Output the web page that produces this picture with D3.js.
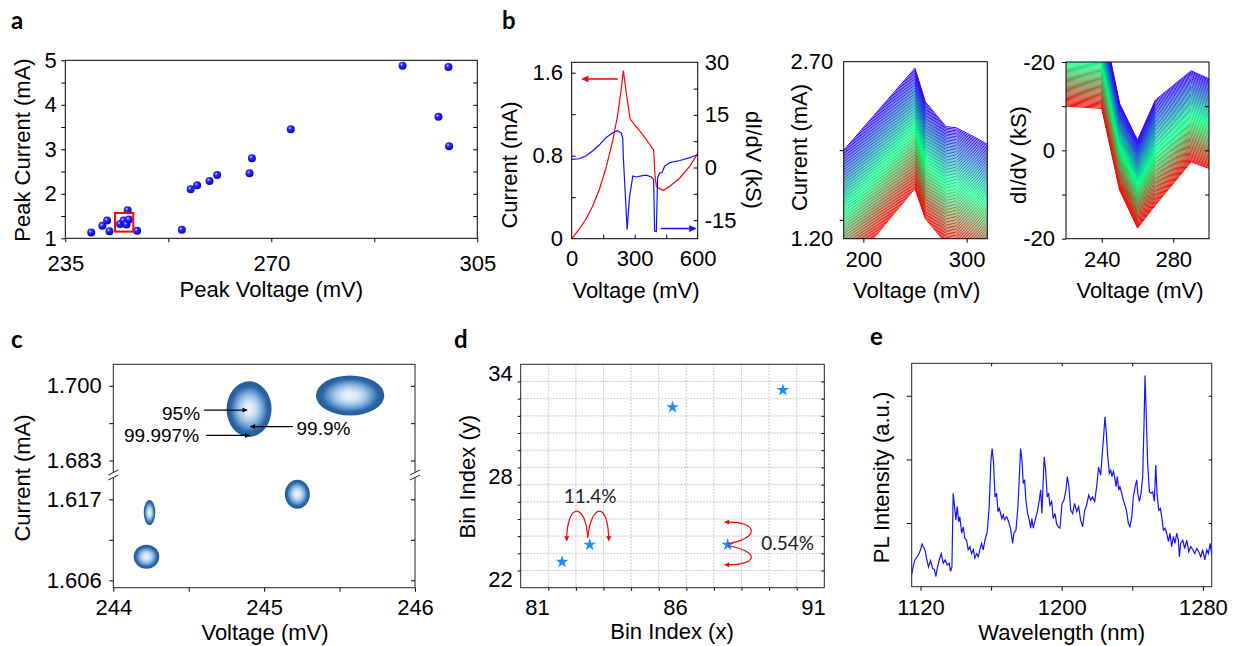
<!DOCTYPE html>
<html>
<head>
<meta charset="utf-8">
<script src="https://cdn.jsdelivr.net/npm/d3@7"></script>
<style>
  body { margin: 0; background: #fff; }
  svg { display: block; }
</style>
</head>
<body>
<svg id="fig" width="1239" height="646"></svg>
<script>
// ---------- data ----------
// a: peak voltage / peak current of each device
const peakV = [239.4, 241.3, 242.1, 242.5, 244.3, 244.9, 245.4, 245.8, 245.6, 247.2, 254.8,
               256.3, 257.4, 259.5, 260.8, 266.3, 266.7, 273.3, 292.3, 298.4, 300.1, 300.2];
const peakI = [1.13, 1.28, 1.40, 1.16, 1.32, 1.40, 1.31, 1.42, 1.63, 1.17, 1.19,
               2.10, 2.19, 2.29, 2.42, 2.46, 2.80, 3.45, 4.88, 3.73, 4.85, 3.07];
const selBox = [243.45, 246.55, 1.15, 1.57];   // x0, x1, y0, y1 of the red square
const aTicksX = [235, 270, 305];
const aTicksY = [1, 2, 3, 4, 5];

// b (left): I-V and dI/dV of one device
const ivV = [0, 35, 67, 99, 131, 163, 195, 219, 235, 246, 259, 278, 307, 339, 371, 390, 397, 403, 419, 438, 467, 515, 563, 600];
const ivI = [0, 0.09, 0.185, 0.31, 0.47, 0.68, 0.94, 1.19, 1.43, 1.62, 1.42, 1.155, 1.08, 1.00, 0.91, 0.857, 0.60, 0.506, 0.48, 0.467, 0.506, 0.585, 0.70, 0.82];
const gV = [0, 35, 67, 99, 131, 163, 195, 219, 235, 243, 246, 256, 264, 275, 291, 307, 331, 355, 379, 390, 395, 403, 409, 419, 430, 443, 467, 515, 563, 600];
const gG = [2.3, 2.5, 3.3, 4.7, 6.4, 8.5, 9.9, 10.5, 9.9, 8.5, 2.8, -8.6, -17.7, -8.6, -2.4, -2.7, -2.4, -2.2, -2.7, -3.4, -18.1, -18.3, -2.9, -1.5, -1.5, 0.4, 1.4, 2.0, 2.8, 3.7];

// b (middle): family of I-V curves, first (red) and last (blue) curve
const famV    = [181, 250, 260, 280, 290, 310, 320];
const famLow  = [0.90, 1.625, 1.37, 1.16, 1.15, 1.06, 1.01];
const famHigh = [1.95, 2.645, 2.36, 2.15, 2.14, 2.05, 2.00];
// b (right): family of dI/dV curves
const dfV    = [220, 240, 250, 260, 270, 290, 300];
const dfLow  = [10, 9.5, -9, -17.6, -12.4, -2.6, -4.1];
const dfHigh = [30, 30, 10.6, 2.3, 11.4, 18, 16.2];
const nCurves = 80;
const famColors = ['#ff0000', '#00ff80', '#3300ff'];

// c: confidence ellipses (centre and half axes)
const ellV  = [244.9, 245.57, 245.22, 244.24, 244.22];
const ellI  = [1.6947, 1.6978, 1.6177, 1.6152, 1.6092];
const ellRV = [0.149, 0.2265, 0.0828, 0.0384, 0.0848];
const ellRI = [0.00633, 0.00455, 0.00197, 0.0017, 0.00163];
const cTicksY = [1.700, 1.683, 1.617, 1.606];

// d: bin indices
const binX = [81.5, 82.5, 85.5, 87.5, 89.5];
const binY = [23.5, 24.5, 32.5, 24.5, 33.5];

// e: PL spectrum
const plWl = [1114.9,1115.8,1116.8,1118.1,1119.2,1120.0,1120.8,1121.5,1122.5,1123.4,1124.5,1125.7,1126.8,1127.9,1128.7,1129.5,1130.6,1131.7,1132.9,1134.0,
  1135.1,1136.3,1137.0,1137.8,1138.5,1139.3,1140.0,1140.8,1141.6,1142.3,1143.3,1144.2,1145.1,1146.1,1147.0,1148.0,1148.9,1149.9,1150.8,1151.8,
  1152.7,1153.6,1154.6,1155.5,1156.5,1157.8,1158.9,1159.9,1160.6,1161.4,1162.2,1163.1,1163.9,1164.6,1165.4,1166.1,1166.9,1167.6,1168.8,1169.9,
  1171.0,1172.2,1172.9,1174.1,1175.2,1176.0,1176.7,1177.5,1178.2,1179.0,1179.7,1180.7,1181.6,1182.4,1183.1,1183.9,1185.0,1186.2,1187.3,1188.1,
  1188.8,1189.6,1190.1,1190.9,1191.8,1192.6,1193.3,1194.3,1195.2,1196.2,1197.1,1198.1,1199.0,1200.2,1201.3,1202.4,1203.2,1204.1,1205.1,1206.2,
  1207.3,1208.5,1209.6,1210.7,1211.9,1213.0,1214.1,1215.3,1216.4,1217.5,1218.7,1219.8,1220.9,1222.1,1223.0,1223.8,1224.5,1225.3,1226.0,1227.0,
  1227.8,1228.5,1229.3,1230.0,1230.8,1231.5,1232.3,1233.0,1234.0,1234.9,1236.1,1236.8,1237.8,1238.7,1239.7,1240.6,1241.6,1242.5,1243.1,1244.0,
  1245.0,1245.9,1246.7,1247.2,1248.0,1248.7,1249.7,1250.6,1251.6,1252.5,1253.3,1254.0,1255.0,1255.9,1256.7,1257.6,1258.6,1259.5,1260.5,1261.4,
  1262.3,1263.3,1264.2,1265.2,1266.1,1266.7,1267.4,1268.6,1269.7,1270.9,1272.0,1273.1,1274.3,1275.4,1276.5,1277.7,1278.8,1279.9,1281.1,1282.2,
  1283.1,1284.1,1285.0];
const plInt = [0.18,0.31,0.42,0.47,0.52,0.58,0.67,0.63,0.58,0.45,0.31,0.41,0.29,0.27,0.16,0.29,0.42,0.52,0.37,0.42,
  0.34,0.37,0.24,0.31,1.47,1.26,1.05,1.26,1.02,1.10,0.84,0.94,0.76,0.73,0.58,0.63,0.52,0.58,0.45,0.52,
  0.47,0.58,0.68,0.58,0.73,0.86,1.26,1.99,2.17,1.94,1.41,1.47,1.18,1.23,1.15,1.07,1.13,1.05,1.10,1.02,
  0.92,0.68,0.84,0.89,1.26,1.73,2.17,1.99,1.62,1.68,1.36,1.15,1.05,0.92,1.07,0.92,1.05,1.18,1.36,1.52,
  1.15,1.73,2.04,1.83,1.41,1.47,1.28,1.34,1.07,1.15,0.99,0.94,0.92,1.31,1.36,1.52,1.73,1.57,1.20,1.15,
  1.31,1.18,1.26,1.05,0.94,1.20,1.28,1.44,1.36,1.41,1.34,1.57,1.88,1.75,2.09,2.38,2.67,2.41,2.09,1.78,
  1.83,1.73,1.81,1.73,1.57,1.73,1.52,1.57,1.47,1.36,1.26,1.18,0.99,0.94,1.10,1.41,1.57,1.68,1.47,1.34,
  1.47,1.73,2.62,3.32,2.62,1.94,1.49,1.47,1.49,1.34,1.91,1.47,1.20,1.23,1.10,0.89,0.92,0.84,0.71,0.84,
  0.63,0.79,0.68,0.84,0.73,0.47,0.68,0.73,0.60,0.73,0.55,0.63,0.58,0.52,0.60,0.55,0.47,0.58,0.42,0.58,
  0.52,0.68,0.50];

// ---------- helpers ----------
const svg = d3.select('#fig');
const defs = svg.append('defs');
const FONT = "'Liberation Sans', Arial, Helvetica, sans-serif";
const FS = 22;

function panel(x0, y0, x1, y1) {
  const g = svg.append('g').attr('transform', `translate(${x0},${y0})`);
  return { g: g, w: x1 - x0, h: y1 - y0, x0: x0, y0: y0 };
}
function frame(P, col) {
  P.g.append('rect').attr('width', P.w).attr('height', P.h)
    .attr('fill', 'none').attr('stroke', col || '#000').attr('stroke-width', 1);
}
function clipped(P, id) {
  defs.append('clipPath').attr('id', id).append('rect').attr('width', P.w).attr('height', P.h);
  return P.g.append('g').attr('clip-path', `url(#${id})`);
}
// ticks only (labels:false) or labels only (size 0)
function addAxis(g, orient, scale, values, o) {
  o = Object.assign({ size: 4, pad: 4, fmt: null, tx: 0, ty: 0, fs: FS, labels: false }, o);
  const gen = orient(scale).tickValues(values).tickSizeInner(o.size).tickSizeOuter(0).tickPadding(o.pad);
  gen.tickFormat(o.labels ? (o.fmt || (d => d)) : '');
  const s = g.append('g').attr('transform', `translate(${o.tx},${o.ty})`).call(gen)
    .attr('font-size', o.fs).attr('font-family', FONT);
  s.select('.domain').remove();
  s.selectAll('line').attr('stroke', '#000');
  s.selectAll('text').attr('fill', '#000');
  return s;
}
function title(s, x, y, rot, size) {
  svg.append('text')
    .attr('transform', `translate(${x},${y}) rotate(${rot || 0})`)
    .attr('text-anchor', 'middle').attr('font-family', FONT)
    .attr('font-size', size || FS).attr('fill', '#000').text(s);
}
function letter(s, x, y) {
  svg.append('text').attr('x', x).attr('y', y).attr('font-family', "Lato, 'Open Sans', sans-serif")
    .attr('font-weight', 'bold').attr('font-size', 24).attr('fill', '#000').text(s);
}
function marker(id, col, w, h) {
  defs.append('marker').attr('id', id).attr('viewBox', '0 0 10 10')
    .attr('refX', 9).attr('refY', 5).attr('markerWidth', w).attr('markerHeight', h)
    .attr('markerUnits', 'userSpaceOnUse').attr('orient', 'auto')
    .append('path').attr('d', 'M0,0L10,5L0,10z').attr('fill', col);
}
marker('arRed', '#ff0000', 8, 7);
marker('arBlue', '#1010ff', 8, 7);
marker('arBlack', '#000', 7, 5);
marker('arRed2', '#ff0000', 6, 5);

// ---------- a ----------
const dg = defs.append('radialGradient').attr('id', 'dotGrad').attr('cx', '38%').attr('cy', '35%').attr('r', '65%');
dg.append('stop').attr('offset', '0%').attr('stop-color', '#d8d8ff');
dg.append('stop').attr('offset', '30%').attr('stop-color', '#3030ff');
dg.append('stop').attr('offset', '100%').attr('stop-color', '#0000c8');

const A = panel(65.3, 60.3, 477.3, 238.3);
const ax = d3.scaleLinear().domain([235, 305]).range([0, A.w]);
const ay = d3.scaleLinear().domain([1, 5]).range([A.h, 0]);
addAxis(A.g, d3.axisBottom, ax, [235, 252.5, 270, 287.5, 305], { size: 4, ty: A.h });
addAxis(A.g, d3.axisBottom, ax, aTicksX, { size: 0, pad: 17, ty: A.h, labels: true });
addAxis(A.g, d3.axisLeft, ay, [1, 1.5, 2, 2.5, 3, 3.5, 4, 4.5, 5], { size: 4 });
addAxis(A.g, d3.axisLeft, ay, aTicksY, { size: 0, pad: 8.6, labels: true });
addAxis(A.g, d3.axisLeft, ay, [1.5, 2, 2.5, 3, 3.5, 4, 4.5], { size: 4, tx: A.w });
A.g.selectAll('circle.pt').data(d3.zip(peakV, peakI)).join('circle').attr('class', 'pt')
  .attr('cx', d => ax(d[0])).attr('cy', d => ay(d[1])).attr('r', 4).attr('fill', 'url(#dotGrad)');
A.g.append('rect').attr('x', ax(selBox[0])).attr('y', ay(selBox[3]))
  .attr('width', ax(selBox[1]) - ax(selBox[0])).attr('height', ay(selBox[2]) - ay(selBox[3]))
  .attr('fill', 'none').attr('stroke', '#ff0000').attr('stroke-width', 2);
frame(A);
title('Peak Voltage (mV)', 271.3, 297);
title('Peak Current (mA)', 30, 150, -90);
letter('a', 11, 29);

// ---------- b, left ----------
const B1 = panel(571.7, 62.3, 697.7, 238.7);
const b1x = d3.scaleLinear().domain([0, 600]).range([0, B1.w]);
const b1y = d3.scaleLinear().domain([0, 1.7]).range([B1.h, 0]);
const b1r = d3.scaleLinear().domain([-20.3, 30]).range([B1.h, 0]);
addAxis(B1.g, d3.axisBottom, b1x, [150, 300, 450], { size: -4, ty: B1.h });
addAxis(B1.g, d3.axisBottom, b1x, [0, 300, 600], { size: 0, pad: 12, ty: B1.h, labels: true });
addAxis(B1.g, d3.axisLeft, b1y, [0.4, 0.8, 1.2, 1.6], { size: -4 });
addAxis(B1.g, d3.axisLeft, b1y, [0, 0.8, 1.6], { size: 0, pad: 8.7, labels: true });
addAxis(B1.g, d3.axisRight, b1r, [-15, -7.5, 0, 7.5, 15, 22.5], { size: -4, tx: B1.w });
addAxis(B1.g, d3.axisRight, b1r, [-15, 0, 15, 30], { size: 0, pad: 7, tx: B1.w, labels: true });
const b1c = clipped(B1, 'clipB1');
b1c.append('path').datum(d3.zip(ivV, ivI))
  .attr('d', d3.line().x(d => b1x(d[0])).y(d => b1y(d[1])))
  .attr('fill', 'none').attr('stroke', '#ff0000').attr('stroke-width', 1.2);
b1c.append('path').datum(d3.zip(gV, gG))
  .attr('d', d3.line().x(d => b1x(d[0])).y(d => b1r(d[1])))
  .attr('fill', 'none').attr('stroke', '#1010ff').attr('stroke-width', 1.2);
B1.g.append('line').attr('x1', b1x(220)).attr('x2', b1x(50)).attr('y1', b1y(1.54)).attr('y2', b1y(1.54))
  .attr('stroke', '#ff0000').attr('stroke-width', 1.5).attr('marker-end', 'url(#arRed)');
B1.g.append('line').attr('x1', b1x(425)).attr('x2', b1x(590)).attr('y1', b1r(-17.4)).attr('y2', b1r(-17.4))
  .attr('stroke', '#1010ff').attr('stroke-width', 1.5).attr('marker-end', 'url(#arBlue)');
frame(B1);
title('Voltage (mV)', 636, 298);
title('Current (mA)', 517, 165, -90);
title('dI/dV (kS)', 746, 160, 90);
letter('b', 502, 29);

// ---------- b, family helpers ----------
const famColor = d3.piecewise(d3.interpolateRgb, famColors);
function family(P, id, xs, low, high, sx, sy) {
  const c = clipped(P, id);
  const line = d3.line().x(d => sx(d[0])).y(d => sy(d[1]));
  const idx = d3.range(nCurves);
  c.selectAll('path').data(idx).join('path')
    .attr('d', k => {
      const t = k / (nCurves - 1);
      return line(xs.map((v, i) => [v, low[i] + t * (high[i] - low[i])]));
    })
    .attr('fill', 'none').attr('stroke', k => famColor(k / (nCurves - 1))).attr('stroke-width', 1);
}

// ---------- b, middle ----------
const B2 = panel(843.7, 61.7, 987.3, 238.7);
const b2x = d3.scaleLinear().domain([181, 320]).range([0, B2.w]);
const b2y = d3.scaleLinear().domain([1.2, 2.7]).range([B2.h, 0]);
family(B2, 'clipB2', famV, famLow, famHigh, b2x, b2y);
addAxis(B2.g, d3.axisBottom, b2x, [200, 300], { size: 4, ty: B2.h });
addAxis(B2.g, d3.axisBottom, b2x, [200, 300], { size: 0, pad: 13, ty: B2.h, labels: true });
addAxis(B2.g, d3.axisLeft, b2y, [1.36, 1.95], { size: 4 });
addAxis(B2.g, d3.axisLeft, b2y, [1.2, 2.7], { size: 0, pad: 10.4, labels: true, fmt: d3.format('.2f') });
frame(B2);
title('Voltage (mV)', 916.7, 298);
title('Current (mA)', 807, 147.5, -90);

// ---------- b, right ----------
const B3 = panel(1066, 62, 1209, 238.7);
const b3x = d3.scaleLinear().domain([220, 300]).range([0, B3.w]);
const b3y = d3.scaleLinear().domain([-20, 20]).range([B3.h, 0]);
const b3Labels = ['-20', '0', '-20'];
family(B3, 'clipB3', dfV, dfLow, dfHigh, b3x, b3y);
addAxis(B3.g, d3.axisBottom, b3x, [240, 280], { size: 4, ty: B3.h });
addAxis(B3.g, d3.axisBottom, b3x, [240, 280], { size: 0, pad: 13, ty: B3.h, labels: true });
addAxis(B3.g, d3.axisLeft, b3y, [-20, -10, 0, 10, 20], { size: 4 });
addAxis(B3.g, d3.axisLeft, b3y, [20, 0, -20], { size: 0, pad: 11, labels: true, fmt: (d, i) => b3Labels[i] });
addAxis(B3.g, d3.axisLeft, b3y, [-10, 0, 10], { size: 4, tx: B3.w });
frame(B3);
title('Voltage (mV)', 1140, 298);
title('dI/dV (kS)', 1026, 155, -90);

// ---------- c ----------
const eg = defs.append('radialGradient').attr('id', 'ellGrad');
[[0, '#eef5fc'], [0.22, '#d9e8f6'], [0.45, '#a3c6e8'], [0.6, '#72a5d5'], [0.72, '#4a84bf'],
 [0.82, '#2c66a3'], [1, '#225c98']].forEach(s =>
  eg.append('stop').attr('offset', s[0]).attr('stop-color', s[1]));

const C = panel(113.3, 364.3, 415, 587.7);
const cBreak = 110.7;
const cx = d3.scaleLinear().domain([244, 246]).range([0, C.w]);
const cyU = d3.scaleLinear().domain([1.6797, 1.7049]).range([cBreak, 0]);
const cyL = d3.scaleLinear().domain([1.6050, 1.6203]).range([C.h, cBreak]);
const cy = v => (v > 1.65 ? cyU(v) : cyL(v));
addAxis(C.g, d3.axisBottom, cx, [244, 244.5, 245, 245.5, 246], { size: 4, ty: C.h });
addAxis(C.g, d3.axisBottom, cx, [244, 245, 246], { size: 0, pad: 12, ty: C.h, labels: true });
addAxis(C.g, d3.axisLeft, cyU, [1.683, 1.6915, 1.700], { size: 4 });
addAxis(C.g, d3.axisLeft, cyL, [1.606, 1.6115, 1.617], { size: 4 });
addAxis(C.g, d3.axisLeft, cyU, cTicksY.slice(0, 2), { size: 0, pad: 11.6, labels: true, fmt: d3.format('.3f') });
addAxis(C.g, d3.axisLeft, cyL, cTicksY.slice(2), { size: 0, pad: 11.6, labels: true, fmt: d3.format('.3f') });
addAxis(C.g, d3.axisLeft, cyU, [1.683, 1.6915, 1.700], { size: 4, tx: C.w });
addAxis(C.g, d3.axisLeft, cyL, [1.606, 1.6115, 1.617], { size: 4, tx: C.w });
C.g.selectAll('ellipse').data(d3.range(ellV.length)).join('ellipse')
  .attr('cx', i => cx(ellV[i])).attr('cy', i => cy(ellI[i]))
  .attr('rx', i => cx(ellV[i] + ellRV[i]) - cx(ellV[i]))
  .attr('ry', i => Math.abs(cy(ellI[i]) - cy(ellI[i] + ellRI[i])))
  .attr('fill', 'url(#ellGrad)');
frame(C, '#222');
// axis break marks
[0, C.w].forEach(x => {
  C.g.append('rect').attr('x', x - 3).attr('y', cBreak - 3).attr('width', 6).attr('height', 6).attr('fill', '#fff');
  [-2.5, 2.5].forEach(o => C.g.append('line')
    .attr('x1', x - 5).attr('y1', cBreak + o + 2.5).attr('x2', x + 5).attr('y2', cBreak + o - 2.5)
    .attr('stroke', '#222').attr('stroke-width', 1));
});
// annotation of contour levels, relative to the first ellipse
const e0x = cx(ellV[0]), e0y = cy(ellI[0]);
const notes = [
  { t: '95%', x1: -45, x2: -2, y: 1, tx: -49, ty: 10.5, anchor: 'end' },
  { t: '99.9%', x1: 44, x2: 1.5, y: 17.5, tx: 47.5, ty: 25.5, anchor: 'start' },
  { t: '99.997%', x1: -43, x2: 0.5, y: 26.3, tx: -50, ty: 32.5, anchor: 'end' }
];
notes.forEach(n => {
  C.g.append('line').attr('x1', e0x + n.x1).attr('x2', e0x + n.x2).attr('y1', e0y + n.y).attr('y2', e0y + n.y)
    .attr('stroke', '#000').attr('stroke-width', 1.2).attr('marker-end', 'url(#arBlack)');
  C.g.append('text').attr('x', e0x + n.tx).attr('y', e0y + n.ty).attr('text-anchor', n.anchor)
    .attr('font-family', FONT).attr('font-size', 19).attr('fill', '#000').text(n.t);
});
title('Voltage (mV)', 265, 640);
title('Current (mA)', 29.5, 478, -90);
letter('c', 11, 348);

// ---------- d ----------
const D = panel(520.7, 364.3, 824.3, 587.7);
const dx = d3.scaleLinear().domain([80, 91]).range([0, D.w]);
const dy = d3.scaleLinear().domain([22, 35]).range([D.h, 0]);
const gridX = d3.range(81, 91), gridY = d3.range(23, 35);
D.g.selectAll('line.gx').data(gridX).join('line').attr('class', 'gx')
  .attr('x1', d => dx(d)).attr('x2', d => dx(d)).attr('y1', 0).attr('y2', D.h);
D.g.selectAll('line.gy').data(gridY).join('line').attr('class', 'gy')
  .attr('x1', 0).attr('x2', D.w).attr('y1', d => dy(d)).attr('y2', d => dy(d));
D.g.selectAll('line.gx, line.gy').attr('stroke', '#b4b4b4').attr('stroke-width', 0.9).attr('stroke-dasharray', '1.6,1.6');
addAxis(D.g, d3.axisBottom, dx, gridX, { size: 3, ty: D.h });
addAxis(D.g, d3.axisLeft, dy, gridY, { size: 3 });
addAxis(D.g, d3.axisLeft, dy, gridY, { size: 3, tx: D.w });
addAxis(D.g, d3.axisBottom, dx, [81, 86, 91], { size: 0, pad: 12, ty: D.h, labels: true })
  .selectAll('text').attr('text-anchor', 'end').attr('x', 1);
addAxis(D.g, d3.axisLeft, dy, [22, 28, 34], { size: 0, pad: 8, labels: true })
  .selectAll('text').attr('dy', 0).attr('y', -1);
const star = d3.symbol().type(d3.symbolStar).size(50);
D.g.selectAll('path.star').data(d3.zip(binX, binY)).join('path').attr('class', 'star')
  .attr('transform', d => `translate(${dx(d[0])},${dy(d[1])})`).attr('d', star).attr('fill', '#1c8cff');
// hopping arrows, relative to the stars they start from
const s2x = dx(binX[1]), s2y = dy(binY[1]), s4x = dx(binX[3]), s4y = dy(binY[3]);
const hops = [
  [s2x, s2y, [[-2, -7], [-4, -43], [-23, -43], [-23, -4]]],
  [s2x, s2y, [[-2, -7], [2, -43], [19, -43], [19, -4]]],
  [s4x, s4y, [[0, -1], [32, -6], [32, -24], [-3, -22.5]]],
  [s4x, s4y, [[0, 1], [32, 6], [32, 21], [-3, 20]]]
];
hops.forEach(h => {
  const p = h[2].map(q => [h[0] + q[0], h[1] + q[1]]);
  D.g.append('path').attr('d', `M${p[0]}C${p[1]} ${p[2]} ${p[3]}`)
    .attr('fill', 'none').attr('stroke', '#ff0000').attr('stroke-width', 1.2).attr('marker-end', 'url(#arRed2)');
});
D.g.append('text').attr('x', s2x + 0.5).attr('y', s2y - 42).attr('text-anchor', 'middle')
  .attr('font-family', "Lato, 'Open Sans', sans-serif").attr('font-size', 19).attr('fill', '#222').text('11.4%');
D.g.append('text').attr('x', s4x + 33.5).attr('y', s4y + 5.5).attr('text-anchor', 'start')
  .attr('font-family', "Lato, 'Open Sans', sans-serif").attr('font-size', 19).attr('fill', '#222').text('0.54%');
frame(D, '#222');
title('Bin Index (x)', 672, 639);
title('Bin Index (y)', 475, 476.7, -90);
letter('d', 454, 348);

// ---------- e ----------
const E = panel(911.7, 363.3, 1211.7, 586.7);
const ex = d3.scaleLinear().domain([1115, 1285]).range([0, E.w]);
const ey = d3.scaleLinear().domain([0, 3.51]).range([E.h, 0]);
addAxis(E.g, d3.axisBottom, ex, [1120, 1160, 1200, 1240, 1280], { size: 4, ty: E.h });
addAxis(E.g, d3.axisBottom, ex, [1120, 1200, 1280], { size: 0, pad: 13, ty: E.h, labels: true });
addAxis(E.g, d3.axisTop, ex, [1160, 1200, 1240], { size: -3 });
addAxis(E.g, d3.axisLeft, ey, [1, 2, 3], { size: 5 });
addAxis(E.g, d3.axisLeft, ey, [1, 2, 3], { size: 3, tx: E.w });
clipped(E, 'clipE').append('path').datum(d3.zip(plWl, plInt))
  .attr('d', d3.line().x(d => ex(d[0])).y(d => ey(d[1])))
  .attr('fill', 'none').attr('stroke', '#1414ff').attr('stroke-width', 1.2);
frame(E, '#222');
title('Wavelength (nm)', 1061.7, 640);
title('PL Intensity (a.u.)', 889, 477.5, -90);
letter('e', 870, 345);
</script>
</body>
</html>
